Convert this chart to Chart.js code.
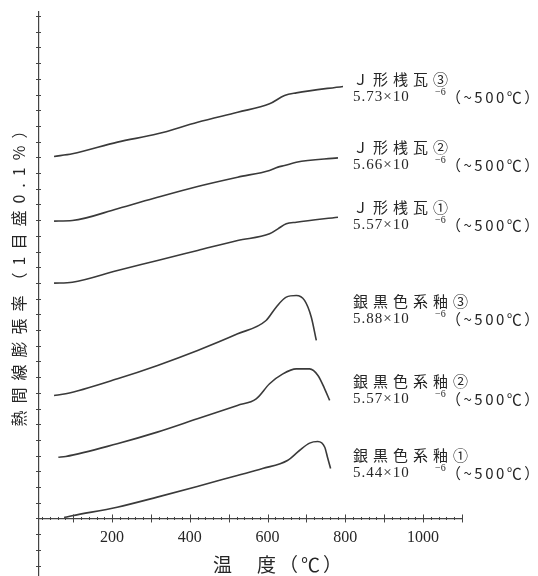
<!DOCTYPE html>
<html><head><meta charset="utf-8">
<script src="https://cdn.jsdelivr.net/npm/chart.js@4"></script>
<style>html,body{margin:0;padding:0;background:#fff;}</style>
</head><body>
<canvas id="c" width="538" height="576"></canvas>
<script>
// temperatures (°C) and relative expansion (%) (offset stacked)
const tempJ3 = [50.7, 97.8, 213.9, 317, 420, 523, 605, 643.6, 673.8, 793.9];
const valJ3  = [2.306, 2.323, 2.397, 2.450, 2.524, 2.588, 2.641, 2.694, 2.711, 2.752];
const tempJ2 = [50.7, 97.8, 213.9, 317, 420, 523, 605, 626.5, 643.6, 673.8, 781];
const valJ2  = [1.894, 1.898, 1.973, 2.046, 2.115, 2.174, 2.217, 2.238, 2.248, 2.269, 2.297];
const tempJ1 = [50.7, 97.8, 213.9, 317, 420, 523, 605, 626.5, 648, 673.8, 781];
const valJ1  = [1.499, 1.505, 1.580, 1.643, 1.707, 1.771, 1.813, 1.845, 1.877, 1.887, 1.919];
const tempA3 = [50.7, 80.8, 213.9, 317, 420, 523, 596, 622, 648, 673.8, 695, 712.4, 725.3];
const valA3  = [0.783, 0.794, 0.890, 0.975, 1.070, 1.176, 1.261, 1.346, 1.410, 1.420, 1.389, 1.282, 1.134];
const tempA2 = [61.8, 80.8, 213.1, 316.2, 419.4, 522.4, 570.6, 605, 639.2, 673.8, 708, 729.5, 746.7, 759.6];
const valA2  = [0.390, 0.395, 0.476, 0.550, 0.635, 0.720, 0.762, 0.858, 0.921, 0.953, 0.953, 0.911, 0.826, 0.752];
const tempA1 = [76.5, 97, 213, 316, 419, 522, 587, 651, 682, 708, 729, 747, 754, 762];
const valA1  = [0.006, 0.017, 0.072, 0.136, 0.204, 0.274, 0.318, 0.369, 0.433, 0.480, 0.490, 0.454, 0.390, 0.318];

const seriesNames = ['Ｊ形桟瓦③', 'Ｊ形桟瓦②', 'Ｊ形桟瓦①', '銀黒色系釉③', '銀黒色系釉②', '銀黒色系釉①'];
const coeffs = ['5.73', '5.66', '5.57', '5.88', '5.57', '5.44'];
const xTickLabels = [200, 400, 600, 800, 1000];
const xTitle = '温　度（℃）';
const yTitle = '熱間線膨張率（1目盛0.1%）';

const temps = [tempJ3, tempJ2, tempJ1, tempA3, tempA2, tempA1];
const vals = [valJ3, valJ2, valJ1, valA3, valA2, valA1];

const datasets = seriesNames.map((n, i) => ({
  label: n,
  data: temps[i].map((t, k) => ({x: t, y: vals[i][k]})),
  borderColor: '#3a3a3a',
  borderWidth: 1.6,
  pointRadius: 0,
  fill: false,
  cubicInterpolationMode: 'monotone'
}));

// label layout (pixels)
const labelLine1Y = [79, 147, 207, 301, 381, 455];
const labelX = 353;
const lineGap = 18;
const ink = '#262626';

const decor = {
  id: 'decor',
  afterDraw(chart) {
    const ctx = chart.ctx;
    const xs = chart.scales.x, ys = chart.scales.y;
    const y0 = ys.getPixelForValue(0);
    ctx.save();
    ctx.strokeStyle = '#444';
    ctx.lineWidth = 1;
    // x ticks
    for (let t = 20; t <= 1100; t += 20) {
      if (t < xs.min) continue;
      const px = Math.round(xs.getPixelForValue(t)) + 0.5;
      const h = (t % 100 === 0) ? 4 : 1.5;
      ctx.beginPath(); ctx.moveTo(px, y0 - h); ctx.lineTo(px, y0 + h); ctx.stroke();
    }
    // y ticks every 0.1%
    for (let k = -3; k <= 32; k++) {
      const py = Math.round(ys.getPixelForValue(k / 10)) + 0.5;
      ctx.beginPath(); ctx.moveTo(chart.chartArea.left - 3, py); ctx.lineTo(chart.chartArea.left + 2, py); ctx.stroke();
    }
    ctx.fillStyle = ink;
    ctx.textBaseline = 'middle';
    // x title
    ctx.font = '19px "Noto Sans CJK JP"';
    ctx.letterSpacing = '3px';
    ctx.textAlign = 'center';
    ctx.fillText(xTitle, 279, 565);
    // y title
    ctx.save();
    ctx.translate(19, 271);
    ctx.rotate(-Math.PI / 2);
    ctx.font = '16px "Noto Sans CJK JP"';
    ctx.letterSpacing = '7px';
    ctx.fillText(yTitle, 0, 0);
    ctx.restore();
    // annotations
    ctx.textAlign = 'left';
    seriesNames.forEach((n, i) => {
      const y1 = labelLine1Y[i], y2 = y1 + lineGap;
      ctx.font = '15px "Noto Sans CJK JP"';
      ctx.letterSpacing = '5px';
      ctx.fillText(n, labelX, y1);
      ctx.font = '15px "Liberation Serif"';
      ctx.letterSpacing = '1px';
      ctx.fillText(coeffs[i] + '×10', labelX, y2);
      ctx.font = '10px "Liberation Serif"';
      ctx.letterSpacing = '0px';
      ctx.fillText('−6', 435, y2 - 5);
      ctx.font = '15px "Noto Sans CJK JP"';
      ctx.letterSpacing = '2.5px';
      ctx.fillText('（~500℃）', 446, y2);
    });
    ctx.restore();
  }
};

new Chart(document.getElementById('c'), {
  type: 'line',
  data: {datasets},
  options: {
    responsive: false,
    animation: false,
    devicePixelRatio: 1,
    layout: {padding: {left: 39, top: 12, right: 76, bottom: 1}},
    plugins: {legend: {display: false}, tooltip: {enabled: false}},
    scales: {
      x: {
        type: 'linear',
        position: {y: 0},
        min: 12, max: 1100,
        afterBuildTicks: (s) => { s.ticks = []; for (let t = 100; t <= 1100; t += 100) s.ticks.push({value: t}); },
        grid: {display: false, drawTicks: false},
        border: {display: true, color: '#444', width: 1.2},
        ticks: {
          padding: 10,
          color: ink,
          font: {family: 'Liberation Serif', size: 16},
          maxRotation: 0,
          autoSkip: false,
          callback: (v) => xTickLabels.includes(v) ? String(v) : ''
        }
      },
      y: {
        type: 'linear',
        min: -0.36, max: 3.226,
        grid: {display: false, drawTicks: false},
        border: {display: true, color: '#444', width: 1.2},
        ticks: {display: false}
      }
    }
  },
  plugins: [decor]
});
</script>
</body></html>
